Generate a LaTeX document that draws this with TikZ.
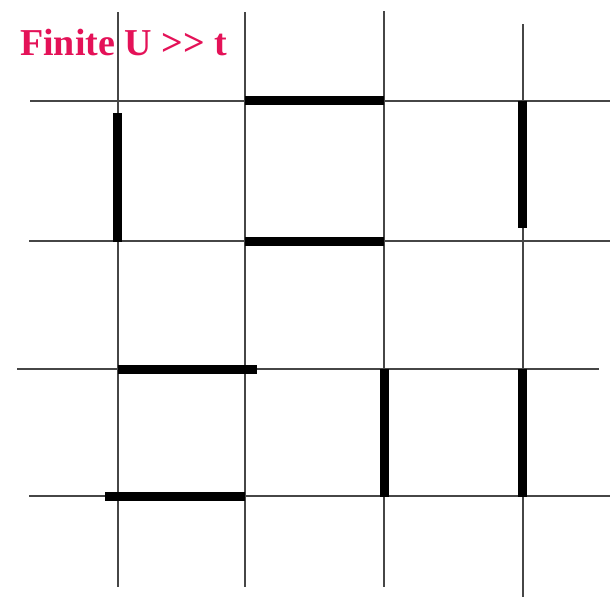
\documentclass[tikz,border=0pt]{standalone}
\usepackage{fontspec}
\setmainfont{Liberation Serif}
\definecolor{titlepink}{RGB}{228,18,88}
\definecolor{gridgray}{RGB}{70,70,70}
\begin{document}
\begin{tikzpicture}[x=1pt,y=-1pt,
  gridline/.style={draw=gridgray,line width=2pt},
  bond/.style={draw=black,line width=9pt,line cap=butt}]
\useasboundingbox (0,0) rectangle (610,597);
% horizontal grid lines
\draw[gridline] (30,100.5) -- (610,100.5);
\draw[gridline] (29,241) -- (610,241);
\draw[gridline] (17,369) -- (599,369);
\draw[gridline] (29,496) -- (610,496);
% vertical grid lines
\draw[gridline] (118,12) -- (118,587);
\draw[gridline] (244.5,12) -- (244.5,587);
\draw[gridline] (383.5,11) -- (383.5,587);
\draw[gridline] (523,24) -- (523,597);
% thick bonds
\draw[bond] (117.5,113) -- (117.5,242);
\draw[bond] (245,100.5) -- (384,100.5);
\draw[bond] (245,241) -- (384,241);
\draw[bond] (522.5,101) -- (522.5,228);
\draw[bond] (118,369) -- (257,369);
\draw[bond] (105,496) -- (245,496);
\draw[bond] (384,369) -- (384,497);
\draw[bond] (522.5,369) -- (522.5,497);
% title
\node[anchor=base west,inner sep=0pt,text=titlepink,font=\bfseries\fontsize{38}{40}\selectfont] (title) at (20,55) {Finite U {>}{>} t};
\end{tikzpicture}
\end{document}
